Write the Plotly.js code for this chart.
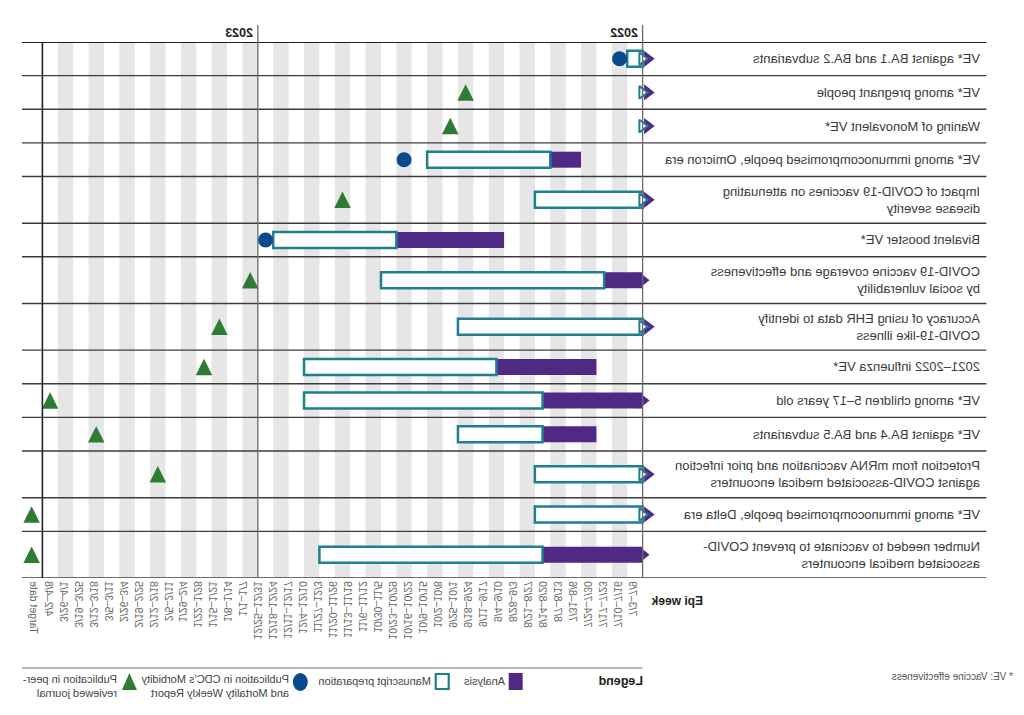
<!DOCTYPE html>
<html><head><meta charset="utf-8">
<script src="https://cdn.plot.ly/plotly-3.0.1.min.js"></script>
<style>html,body{margin:0;padding:0;background:#fff;}#chart{width:1024px;height:715px;transform:scaleX(-1);}</style>
</head><body><div id="chart"></div>
<script>
// ---------- data ----------
const tasks = [
  'VE* against BA.1 and BA.2 subvariants',
  'VE* among pregnant people',
  'Waning of Monovalent VE*',
  'VE* among immunocompromised people, Omicron era',
  'Impact of COVID-19 vaccines on attenuating<br>disease severity',
  'Bivalent booster VE*',
  'COVID-19 vaccine coverage and effectiveness<br>by social vulnerability',
  'Accuracy of using EHR data to identify<br>COVID-19-like illness',
  '2021–2022 influenza VE*',
  'VE* among children 5–17 years old',
  'VE* against BA.4 and BA.5 subvariants',
  'Protection from mRNA vaccination and prior infection<br>against COVID-associated medical encounters',
  'VE* among immunocompromised people, Delta era',
  'Number needed to vaccinate to prevent COVID-<br>associated medical encounters'
];
// positions in weeks from the start of the 7/3–7/9 column
const analysisStart   = [null, null, null, 4, null, 9, 0, null, 3, 0, 3, null, null, 0];
const analysisEnd     = [null, null, null, 6, null, 16, 2.5, null, 9.5, 6.5, 6.5, null, null, 6.5];
const manuscriptStart = [0, null, null, 6, 0, 16, 2.5, 0, 9.5, 6.5, 6.5, 0, 0, 6.5];
const manuscriptEnd   = [1, null, null, 14, 7, 24, 17, 12, 22, 22, 12, 7, 7, 21];
const manuscriptBeforeWindow = [true, true, true, false, true, false, false, true, false, false, false, true, true, false];
const analysisBeforeWindow   = [false, false, false, false, false, false, true, false, false, true, false, false, false, true];
const mmwrPublication    = [1.5, null, null, 15.5, null, 24.5, null, null, null, null, null, null, null, null];
const journalPublication = [null, 11.5, 12.5, null, 19.5, null, 25.5, 27.5, 28.5, 38.5, 35.5, 31.5, 39.7, 39.7];
const epiWeeks = ['7/3–7/9','7/10–7/16','7/17–7/23','7/24–7/30','7/31–8/6','8/7–8/13','8/14–8/20','8/21–8/27',
  '8/28–9/3','9/4–9/10','9/11–9/17','9/18–9/24','9/25–10/1','10/2–10/8','10/9–10/15','10/16–10/22',
  '10/23–10/29','10/30–11/5','11/6–11/12','11/13–11/19','11/20–11/26','11/27–12/3','12/4–12/10',
  '12/11–12/17','12/18–12/24','12/25–12/31','1/1–1/7','1/8–1/14','1/15–1/21','1/22–1/28','1/29–2/4',
  '2/5–2/11','2/12–2/18','2/19–2/25','2/26–3/4','3/5–3/11','3/12–3/18','3/19–3/25','3/26–4/1','4/2–4/8',
  'Target date'];
const yearLabels = ['2022', '2023'];
const yearStarts = [0, 25];
const gridColumns = 39;

// ---------- geometry / style ----------
const FONT = 'Liberation Sans, Arial, sans-serif';
const PURPLE = '#4f2a84', TEAL = '#1f7f91', NAVY = '#0b4a8a', GREEN = '#2e7b34';
const colPx = 15.4, labelPx = 15.0;
const originPx = 381;               // pixel of the first week column's left edge
const firstLabelPx = 391;           // pixel of the first week label
const plotL = originPx - colPx, plotR = 1002, plotT = 42, plotB = 578;
const xMin = -1, xMax = (plotR - originPx) / colPx;
const lines = tasks.map(t => t.split('<br>').length);
const rowH = lines.map(n => 20.5 + 13 * n);
const totalH = rowH.reduce((a, b) => a + b, 0);
const pxPerUnit = (plotB - plotT) / totalH;
const rowTop = []; let acc = 0;
rowH.forEach(h => { rowTop.push(acc); acc += h; });
const rowMid = rowTop.map((t, i) => t + rowH[i] / 2);
const px = xu => (xu - plotL) / (plotR - plotL);
const py = y => (plotB - y) / (plotB - plotT);
const barH = 16 / pxPerUnit;

const idx = arr => arr.map((v, i) => v == null ? null : i).filter(v => v != null);
const traces = [];
// analysis bars
const aI = idx(analysisStart);
traces.push({type: 'bar', orientation: 'h', y: aI.map(i => rowMid[i]), base: aI.map(i => analysisStart[i]),
  x: aI.map(i => analysisEnd[i] - analysisStart[i]), width: barH,
  marker: {color: PURPLE, line: {width: 0}}, hoverinfo: 'skip'});
// manuscript bars
const mI = idx(manuscriptStart);
traces.push({type: 'bar', orientation: 'h', y: mI.map(i => rowMid[i]), base: mI.map(i => manuscriptStart[i]),
  x: mI.map(i => manuscriptEnd[i] - manuscriptStart[i]), width: barH,
  marker: {color: '#ffffff', line: {width: 2.5, color: TEAL}}, hoverinfo: 'skip'});
// continuation arrows (work began before the first week shown)
const mbI = manuscriptBeforeWindow.map((v, i) => v ? i : null).filter(v => v != null);
const abI = analysisBeforeWindow.map((v, i) => v ? i : null).filter(v => v != null);
traces.push({type: 'scatter', mode: 'markers', cliponaxis: false, hoverinfo: 'skip',
  x: mbI.map(() => -5 / colPx), y: mbI.map(i => rowMid[i]),
  marker: {symbol: 'triangle-left', size: 14, color: PURPLE}});
traces.push({type: 'scatter', mode: 'markers', cliponaxis: false, hoverinfo: 'skip',
  x: mbI.map(() => 0.5 / colPx), y: mbI.map(i => rowMid[i]),
  marker: {symbol: 'triangle-left', size: 11, color: '#ffffff', line: {width: 2, color: TEAL}}});
traces.push({type: 'scatter', mode: 'markers', cliponaxis: false, hoverinfo: 'skip',
  x: abI.map(() => 0), y: abI.map(i => rowMid[i]),
  marker: {symbol: 'triangle-left', size: 14, color: PURPLE}});
// publications
const pI = idx(mmwrPublication);
traces.push({type: 'scatter', mode: 'markers', cliponaxis: false, hoverinfo: 'skip',
  x: pI.map(i => mmwrPublication[i]), y: pI.map(i => rowMid[i]),
  marker: {symbol: 'circle', size: 15, color: NAVY}});
const triS = 16.5;
const jI = idx(journalPublication);
traces.push({type: 'scatter', mode: 'markers', cliponaxis: false, hoverinfo: 'skip',
  x: jI.map(i => journalPublication[i]), y: jI.map(i => rowMid[i] - (triS / 2) / pxPerUnit),
  marker: {symbol: 'arrow-up', size: triS, color: GREEN, line: {width: 0}}});
// dummy trace for the week-label axis
traces.push({type: 'scatter', mode: 'markers', xaxis: 'x2', yaxis: 'y', hoverinfo: 'skip',
  x: epiWeeks.map((_, i) => i), y: epiWeeks.map(() => null), marker: {opacity: 0}});

// ---------- shapes ----------
const shapes = [];
for (let k = 1; k < gridColumns; k += 2) {
  shapes.push({type: 'rect', layer: 'below', xref: 'x', yref: 'paper', x0: k, x1: k + 1, y0: 0, y1: 1,
    fillcolor: '#e6e6e6', line: {width: 0}});
}
// row separators
rowTop.concat([totalH]).forEach((t, i) => {
  shapes.push({type: 'line', xref: 'paper', yref: 'y', x0: px(37), x1: 1, y0: t, y1: t,
    line: {color: i === 0 ? '#1e1e1e' : '#3c3c3c', width: i === 0 ? 2 : 1.4}});
});
// year lines
yearStarts.forEach(c => shapes.push({type: 'line', xref: 'x', yref: 'paper', x0: c, x1: c, y0: 0, y1: py(25),
  line: {color: '#6a6a6a', width: 1.3}}));
shapes.push({type: 'line', xref: 'x', yref: 'paper', x0: gridColumns, x1: gridColumns, y0: 0, y1: 1,
  line: {color: '#222', width: 1.6}});
// legend
shapes.push({type: 'line', xref: 'paper', yref: 'paper', x0: px(381), x1: 1, y0: py(668), y1: py(668), line: {color: '#777', width: 1}});
shapes.push({type: 'rect', xref: 'paper', yref: 'paper', x0: px(501), x1: px(515), y0: py(690), y1: py(673),
  fillcolor: PURPLE, line: {width: 0}});
shapes.push({type: 'rect', xref: 'paper', yref: 'paper', x0: px(575), x1: px(588), y0: py(689), y1: py(674),
  fillcolor: '#fff', line: {width: 2.2, color: TEAL}});
shapes.push({type: 'circle', xref: 'paper', yref: 'paper', x0: px(716), x1: px(731), y0: py(691), y1: py(673),
  fillcolor: NAVY, line: {width: 0}});
shapes.push({type: 'path', xref: 'paper', yref: 'paper',
  path: `M${px(894.5)},${py(673)} L${px(887)},${py(690)} L${px(902)},${py(690)} Z`, fillcolor: GREEN, line: {width: 0}});

// ---------- annotations ----------
const ann = [];
tasks.forEach((t, i) => ann.push({xref: 'paper', yref: 'y', x: px(41), y: rowMid[i], xanchor: 'left', yanchor: 'middle',
  text: t, showarrow: false, align: 'left', font: {family: FONT, size: 13, color: '#3a3a3a'}}));
yearLabels.forEach((t, i) => ann.push({xref: 'x', yref: 'paper', x: yearStarts[i], y: py(33), xanchor: 'left', xshift: 3,
  yanchor: 'middle', text: '<b>' + t + '</b>', showarrow: false, font: {family: FONT, size: 12.5, color: '#222'}}));
ann.push({xref: 'paper', yref: 'paper', x: px(375), y: py(601), xanchor: 'right', yanchor: 'middle',
  text: '<b>Epi week</b>', showarrow: false, font: {family: FONT, size: 12, color: '#222'}});
ann.push({xref: 'paper', yref: 'paper', x: px(379), y: py(681), xanchor: 'left', yanchor: 'middle',
  text: '<b>Legend</b>', showarrow: false, font: {family: FONT, size: 12.5, color: '#222'}});
const legTexts = [['Analysis', 517, 681], ['Manuscript preparation', 591, 681],
  ["Publication in CDC's Morbidity<br>and Mortality Weekly Report", 733, 685.5],
  ['Publication in peer-<br>reviewed journal', 905, 685.5]];
legTexts.forEach(([t, x, y]) => ann.push({xref: 'paper', yref: 'paper', x: px(x), y: py(y), xanchor: 'left',
  yanchor: 'middle', align: 'left', text: t, showarrow: false, font: {family: FONT, size: 11, color: '#444'}}));
ann.push({xref: 'paper', yref: 'paper', x: px(8), y: py(676), xanchor: 'left', yanchor: 'middle',
  text: '* VE: Vaccine effectiveness', showarrow: false, font: {family: FONT, size: 10, color: '#555'}});

const layout = {
  width: 1024, height: 715, showlegend: false, barmode: 'overlay',
  paper_bgcolor: '#fff', plot_bgcolor: 'rgba(0,0,0,0)',
  margin: {l: plotL, r: 1024 - plotR, t: plotT, b: 715 - plotB, pad: 0},
  xaxis: {range: [xMin, xMax], showgrid: false, zeroline: false, showticklabels: false, ticks: '', fixedrange: true, automargin: false},
  xaxis2: {overlaying: 'x', anchor: 'y', side: 'bottom',
    range: [(plotL - firstLabelPx) / labelPx, (plotR - firstLabelPx) / labelPx],
    tickmode: 'array', tickvals: epiWeeks.map((_, i) => i), ticktext: epiWeeks, tickangle: -90, ticks: '',
    showgrid: false, zeroline: false, showline: false, automargin: false,
    tickfont: {family: FONT, size: 10.5, color: '#666'}},
  yaxis: {range: [totalH, 0], showgrid: false, zeroline: false, showticklabels: false, ticks: '', automargin: false},
  shapes: shapes, annotations: ann
};
Plotly.newPlot('chart', traces, layout, {staticPlot: true, displayModeBar: false});
</script></body></html>
